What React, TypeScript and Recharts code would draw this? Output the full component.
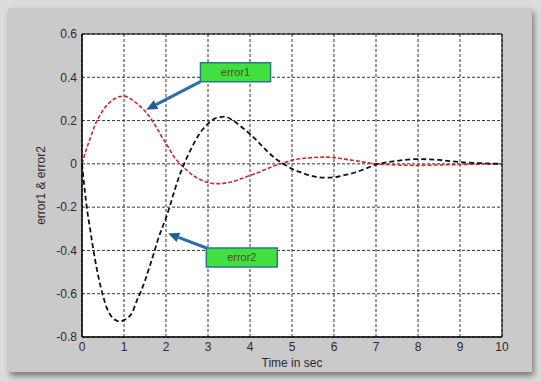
import {
  LineChart,
  Line,
  XAxis,
  YAxis,
  CartesianGrid,
  ReferenceArea,
  ReferenceLine,
} from "recharts";

const time = [
  0, 0.1, 0.2, 0.3, 0.4, 0.5, 0.6, 0.7, 0.8, 0.9, 1.0, 1.1, 1.2, 1.3, 1.4, 1.5,
  1.6, 1.7, 1.8, 1.9, 2.0, 2.1, 2.2, 2.3, 2.4, 2.5, 2.6, 2.8, 3.0, 3.2, 3.4,
  3.6, 3.8, 4.0, 4.2, 4.4, 4.6, 4.8, 5.0, 5.25, 5.5, 5.75, 6.0, 6.25, 6.5,
  6.75, 7.0, 7.5, 8.0, 8.5, 9.0, 9.5, 10,
];

const error1 = [
  0, 0.065, 0.12, 0.175, 0.215, 0.248, 0.272, 0.29, 0.303, 0.311, 0.313, 0.307,
  0.295, 0.28, 0.263, 0.243, 0.22, 0.19, 0.16, 0.125, 0.095, 0.062, 0.03,
  0.008, -0.012, -0.03, -0.047, -0.071, -0.086, -0.092, -0.089, -0.081,
  -0.068, -0.054, -0.04, -0.023, -0.008, 0.004, 0.017, 0.025, 0.029, 0.031,
  0.029, 0.022, 0.015, 0.007, 0.0, -0.005, -0.007, -0.005, -0.003, -0.001, 0,
];

const error2 = [
  0, -0.18, -0.31, -0.43, -0.53, -0.61, -0.67, -0.705, -0.722, -0.728, -0.722,
  -0.71, -0.685, -0.635, -0.59, -0.54, -0.48, -0.42, -0.355, -0.3, -0.25,
  -0.19, -0.125, -0.065, -0.015, 0.03, 0.07, 0.14, 0.186, 0.212, 0.218, 0.2,
  0.17, 0.138, 0.1, 0.06, 0.025, 0.0, -0.023, -0.042, -0.057, -0.064, -0.062,
  -0.052, -0.04, -0.022, -0.004, 0.014, 0.022, 0.018, 0.008, 0.003, 0,
];

const xTicks = [0, 1, 2, 3, 4, 5, 6, 7, 8, 9, 10];
const yTicks = [-0.8, -0.6, -0.4, -0.2, 0, 0.2, 0.4, 0.6];

const data = time.map((t, i) => ({ t, error1: error1[i], error2: error2[i] }));

const font = "'Liberation Sans', Arial, sans-serif";

const Arrow = (props: any) => {
  const { x1, y1, x2, y2 } = props;
  const ang = Math.atan2(y2 - y1, x2 - x1);
  const len = 11;
  const w = 5;
  const bx = x2 - len * Math.cos(ang);
  const by = y2 - len * Math.sin(ang);
  const px = -Math.sin(ang) * w;
  const py = Math.cos(ang) * w;
  return (
    <g>
      <line x1={x1} y1={y1} x2={bx} y2={by} stroke="#2b6fa5" strokeWidth={3} />
      <polygon
        points={`${x2},${y2} ${bx + px},${by + py} ${bx - px},${by - py}`}
        fill="#1f5f96"
      />
    </g>
  );
};

export default function App() {
  return (
    <div
      style={{
        position: "absolute",
        left: 0,
        top: 0,
        width: 541,
        height: 381,
        background: "#dcdcdc",
        overflow: "hidden",
      }}
    >
      <div
        style={{
          position: "absolute",
          left: 8,
          top: 8,
          width: 524,
          height: 364,
          background: "#cacaca",
          boxShadow: "2px 4px 6px rgba(0,0,0,0.45)",
        }}
      />
      <div style={{ position: "absolute", left: 0, top: 0 }}>
        <LineChart
          width={541}
          height={381}
          data={data}
          margin={{ top: 34, right: 39, left: 0, bottom: 0 }}
        >
          <CartesianGrid
            fill="#ffffff"
            stroke="#333"
            strokeDasharray="3 2"
          />
          <XAxis
            dataKey="t"
            type="number"
            domain={[0, 10]}
            ticks={xTicks}
            height={44}
            tickLine={false}
            tickSize={3}
            axisLine={{ stroke: "#000" }}
            tick={{ fill: "#2a2a2a", fontSize: 12, fontFamily: font }}
            label={{
              value: "Time in sec",
              position: "center",
              dy: 4,
              fill: "#2a2a2a",
              fontSize: 12,
              fontFamily: font,
            }}
          />
          <YAxis
            type="number"
            domain={[-0.8, 0.6]}
            ticks={yTicks}
            width={82}
            tickLine={false}
            tickSize={3}
            tickMargin={2}
            axisLine={{ stroke: "#000" }}
            tickFormatter={(v: number) => String(v)}
            tick={{ fill: "#2a2a2a", fontSize: 12, fontFamily: font }}
            label={{
              value: "error1 & error2",
              angle: -90,
              position: "center",
              fill: "#2a2a2a",
              fontSize: 12,
              fontFamily: font,
            }}
          />
          <ReferenceArea
            x1={0}
            x2={10}
            y1={-0.8}
            y2={0.6}
            fill="none"
            stroke="#000"
            strokeWidth={1}
          />
          <Line
            dataKey="error1"
            type="monotone"
            stroke="#cc2a2a"
            strokeWidth={1.6}
            strokeDasharray="4 2"
            dot={false}
            isAnimationActive={false}
          />
          <Line
            dataKey="error2"
            type="monotone"
            stroke="#111"
            strokeWidth={1.8}
            strokeDasharray="5 3"
            dot={false}
            isAnimationActive={false}
          />
          <ReferenceLine
            segment={[
              { x: 2.82, y: 0.38 },
              { x: 1.53, y: 0.25 },
            ]}
            shape={Arrow}
          />
          <ReferenceLine
            segment={[
              { x: 2.98, y: -0.39 },
              { x: 2.05, y: -0.322 },
            ]}
            shape={Arrow}
          />
          <ReferenceArea
            x1={2.82}
            x2={4.49}
            y1={0.379}
            y2={0.467}
            fill="#3fe03f"
            fillOpacity={1}
            stroke="#2a7a86"
            strokeWidth={1.5}
            label={{
              value: "error1",
              position: "center",
              fill: "#5a4a24",
              fontSize: 11,
              fontFamily: font,
            }}
          />
          <ReferenceArea
            x1={2.96}
            x2={4.65}
            y1={-0.477}
            y2={-0.389}
            fill="#3fe03f"
            fillOpacity={1}
            stroke="#2a7a86"
            strokeWidth={1.5}
            label={{
              value: "error2",
              position: "center",
              fill: "#5a4a24",
              fontSize: 11,
              fontFamily: font,
            }}
          />
        </LineChart>
      </div>
    </div>
  );
}
